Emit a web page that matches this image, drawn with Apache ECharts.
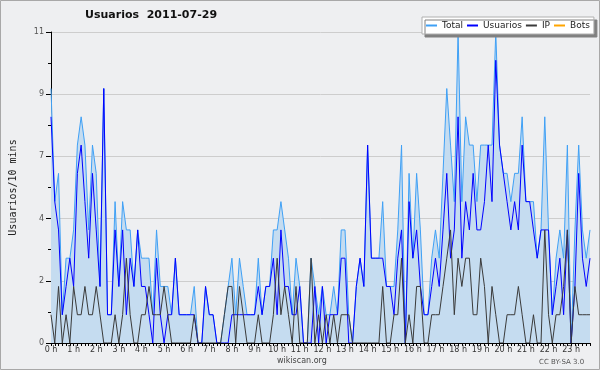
<!DOCTYPE html>
<html><head><meta charset="utf-8">
<script src="https://cdn.jsdelivr.net/npm/echarts@6/dist/echarts.min.js"></script>
<style>html,body{margin:0;padding:0;background:#eeeff1}#c{width:600px;height:370px}</style>
</head><body><div id="c"></div><script>
// 10-minute slots, 0:00 .. 23:50
const hourLabels = [];
for (let h = 0; h < 24; h++) { for (let m = 0; m < 60; m += 10) { hourLabels.push(h + ':' + (m < 10 ? '0' + m : m)); } }

const seriesNames = ['Total', 'Usuarios', 'IP', 'Bots'];
const seriesColors = ['#3fa0f5', '#0000ff', '#3a3a3a', '#ffa500'];

const total = [9,5,6,1,3,3,4,7,8,7, 4,7,6,2,9,1,1,5,2,5, 4,4,2,4,3,3,3,1,4,2,
  2,2,1,3,1,1,1,1,2,0, 0,2,1,1,0,0,1,2,3,1, 3,2,1,1,1,3,1,2,2,4,
  4,5,4,3,1,3,2,0,0,3, 2,1,2,1,1,2,1,4,4,1, 0,2,3,2,7,3,3,3,5,2,
  2,2,4,7,0,6,3,6,4,1, 1,3,4,3,6,9,7,5,11,5, 8,7,7,5,7,7,7,7,11,7,
  6,6,5,6,6,8,5,5,5,3, 4,8,4,1,3,4,3,7,0,4, 7,4,3,4];

const usuarios = [8,5,4,1,2,3,2,6,7,5, 3,6,4,2,9,1,1,4,2,4, 1,3,2,4,2,2,1,0,3,1,
  0,1,1,3,1,1,1,1,1,0, 0,2,1,1,0,0,0,0,1,1, 1,1,1,1,1,2,1,2,2,3,
  1,4,2,2,1,1,2,0,0,0, 2,0,2,0,1,1,1,3,3,0, 0,2,3,2,7,3,3,3,3,2,
  2,1,3,4,0,5,3,4,2,1, 1,2,3,2,4,6,3,4,8,3, 5,4,6,4,4,5,7,5,10,7,
  6,5,4,5,4,7,5,5,4,3, 4,4,4,1,2,3,1,4,0,2, 6,3,2,3];

const ip = [1,0,2,0,1,0,2,1,1,2, 1,1,2,1,0,0,0,1,0,1, 3,1,0,0,1,1,2,1,1,1,
  2,1,0,0,0,0,0,0,1,0, 0,0,0,0,0,0,1,2,2,0, 2,1,0,0,0,1,0,0,0,1,
  3,1,2,1,0,2,0,0,0,3, 0,1,0,1,0,1,0,1,1,1, 0,0,0,0,0,0,0,0,2,0,
  0,1,1,3,0,1,0,2,2,0, 0,1,1,1,2,3,4,1,3,2, 3,3,1,1,3,2,0,2,1,0,
  0,1,1,1,2,1,0,0,1,0, 0,4,1,0,1,1,2,4,0,2, 1,1,1,1];

const bots = [0,0,0,0,0,0,0,0,0,0, 0,0,0,0,0,0,0,0,0,0, 0,0,0,0,0,0,0,0,0,0,
  0,0,0,0,0,0,0,0,0,0, 0,0,0,0,0,0,0,0,0,0, 0,0,0,0,0,0,0,0,0,0,
  0,0,0,0,0,0,0,0,0,0, 0,0,0,0,0,0,0,0,0,0, 0,0,0,0,0,0,0,0,0,0,
  0,0,0,0,0,0,0,0,0,0, 0,0,0,0,0,0,0,0,0,0, 0,0,0,0,0,0,0,0,0,0,
  0,0,0,0,0,0,0,0,0,0, 0,0,0,0,0,0,0,0,0,0, 0,0,0,0];

const chart = echarts.init(document.getElementById('c'), null, {renderer: 'canvas'});
chart.setOption({
  animation: false,
  backgroundColor: '#eeeff1',
  title: {
    text: 'Usuarios  2011-07-29', left: 85, top: 10, padding: 0,
    textStyle: {fontFamily: 'DejaVu Sans', fontWeight: 'bold', fontSize: 11, color: '#111'}
  },
  legend: {
    data: seriesNames.map((n, i) => ({name: n, icon: 'rect', itemStyle: {color: seriesColors[i], borderWidth: 0}})),
    left: 422, top: 17,
    padding: [3, 4, 3, 4], itemGap: 4, itemWidth: 11, itemHeight: 2,
    backgroundColor: '#ffffff', borderColor: '#b0b0b0', borderWidth: 1,
    shadowColor: '#808080', shadowOffsetX: 3, shadowOffsetY: 3, shadowBlur: 0,
    textStyle: {fontFamily: 'DejaVu Sans', fontSize: 9, color: '#222', lineHeight: 11}
  },
  grid: {left: 46, right: 10, top: 32, bottom: 27},
  xAxis: {
    type: 'category', data: hourLabels, boundaryGap: false, z: 5,
    axisLine: {lineStyle: {color: '#000', width: 1}},
    axisTick: {interval: 0, length: 3, lineStyle: {color: '#000'}},
    axisLabel: {interval: 5, margin: 3, fontSize: 8, color: '#333', fontFamily: 'DejaVu Sans',
      formatter: v => v.split(':')[0] + ' h'},
    splitLine: {show: false}
  },
  yAxis: {
    type: 'value', min: 0, max: 11, interval: 2.2,
    name: 'Usuarios/10 mins', nameLocation: 'middle', nameGap: 33,
    nameTextStyle: {fontFamily: 'DejaVu Sans Mono', fontSize: 10, color: '#222'},
    axisLine: {show: true, lineStyle: {color: '#000', width: 1}},
    axisTick: {show: true, length: 5, lineStyle: {color: '#000'}},
    minorTick: {show: true, splitNumber: 2, length: 3, lineStyle: {color: '#000'}},
    axisLabel: {margin: 7, fontSize: 8, color: '#555', fontFamily: 'DejaVu Sans',
      formatter: v => String(Math.round(v))},
    splitLine: {show: true, lineStyle: {color: '#cdcdcd', width: 1}}
  },
  graphic: [
    {type: 'rect', shape: {x: 0.5, y: 0.5, width: 599, height: 369}, style: {fill: 'none', stroke: '#a8a8a8', lineWidth: 1}, silent: true},
    {type: 'text', left: 277, top: 357, style: {text: 'wikiscan.org', fontFamily: 'DejaVu Sans', fontSize: 8, fill: '#444'}},
    {type: 'text', left: 539, top: 359, style: {text: 'CC BY-SA 3.0', fontFamily: 'DejaVu Sans', fontSize: 7, fill: '#555'}}
  ],
  series: [
    {name: 'Total', type: 'line', data: total, symbol: 'none', color: seriesColors[0],
      lineStyle: {width: 1, color: seriesColors[0]}, areaStyle: {color: '#c5dcf0', opacity: 1}, z: 2},
    {name: 'Usuarios', type: 'line', data: usuarios, symbol: 'none', color: seriesColors[1],
      lineStyle: {width: 1, color: seriesColors[1]}, z: 3},
    {name: 'IP', type: 'line', data: ip, symbol: 'none', color: seriesColors[2],
      lineStyle: {width: 1, color: seriesColors[2]}, z: 4},
    {name: 'Bots', type: 'line', data: bots, symbol: 'none', color: seriesColors[3],
      lineStyle: {width: 1, color: seriesColors[3]}, z: 1}
  ]
});
</script></body></html>
